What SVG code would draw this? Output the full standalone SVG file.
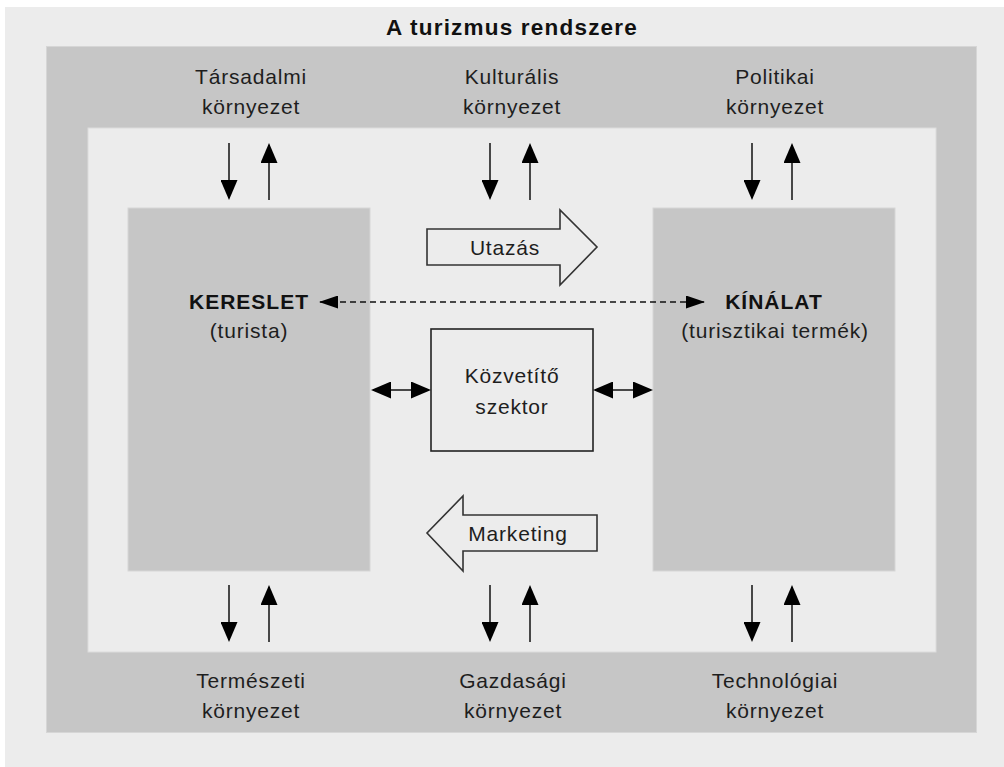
<svg xmlns="http://www.w3.org/2000/svg" width="1004" height="767" viewBox="0 0 1004 767">
  <style>
    .lbl { font-family: "Liberation Sans", Arial, sans-serif; font-size: 21px; letter-spacing: 0.8px; fill: #1e1e1e; text-anchor: middle; }
    .bold { font-family: "Liberation Sans", Arial, sans-serif; font-weight: bold; fill: #111; text-anchor: middle; }
    .arr { stroke: #111; stroke-width: 1.5; fill: none; }
    .dash { stroke: #111; stroke-width: 1.3; fill: none; stroke-dasharray: 6 4; }
    .block { fill: #ececec; stroke: #333; stroke-width: 1.6; }
    .mid { fill: #c6c6c6; stroke: #d6d6d6; stroke-width: 1; }
    .light { fill: #ececec; stroke: #dcdcdc; stroke-width: 1; }
  </style>
  <defs>
    <marker id="ah" markerUnits="userSpaceOnUse" viewBox="0 0 20 17" refX="18" refY="8.5" markerWidth="20" markerHeight="17" orient="auto-start-reverse">
      <path d="M0,0 L20,8.5 L0,17 z" fill="#000"/>
    </marker>
    <marker id="ahs" markerUnits="userSpaceOnUse" viewBox="0 0 19 13" refX="18" refY="6.5" markerWidth="19" markerHeight="13" orient="auto-start-reverse">
      <path d="M0,0 L19,6.5 L0,13 z" fill="#000"/>
    </marker>
  </defs>

  <rect x="0" y="0" width="1004" height="767" fill="#ffffff"/>
  <g id="frame">
    <rect x="5" y="7" width="999" height="760" fill="#ececec"/>
    <rect class="mid" x="46.5" y="46.5" width="930" height="686"/>
    <rect class="light" x="88" y="128" width="848" height="524"/>
  </g>

  <g id="title">
    <text class="bold" x="512" y="35" font-size="22.5" letter-spacing="1.2">A turizmus rendszere</text>
  </g>

  <g id="env-tarsadalmi">
    <text class="lbl" x="251" y="84">Társadalmi</text>
    <text class="lbl" x="251" y="114">környezet</text>
  </g>
  <g id="env-kulturalis">
    <text class="lbl" x="512" y="84">Kulturális</text>
    <text class="lbl" x="512" y="114">környezet</text>
  </g>
  <g id="env-politikai">
    <text class="lbl" x="775" y="84">Politikai</text>
    <text class="lbl" x="775" y="114">környezet</text>
  </g>
  <g id="env-termeszeti">
    <text class="lbl" x="251" y="688">Természeti</text>
    <text class="lbl" x="251" y="718">környezet</text>
  </g>
  <g id="env-gazdasagi">
    <text class="lbl" x="513" y="688">Gazdasági</text>
    <text class="lbl" x="513" y="718">környezet</text>
  </g>
  <g id="env-technologiai">
    <text class="lbl" x="775" y="688">Technológiai</text>
    <text class="lbl" x="775" y="718">környezet</text>
  </g>

  <g id="kereslet">
    <rect class="mid" x="128" y="208" width="242" height="363"/>
    <text class="bold" x="249" y="309" font-size="21" letter-spacing="1">KERESLET</text>
    <text class="lbl" x="249" y="338" letter-spacing="0.6">(turista)</text>
  </g>

  <g id="kinalat">
    <rect class="mid" x="653" y="208" width="242" height="363"/>
    <text class="bold" x="774" y="309" font-size="21" letter-spacing="1">KÍNÁLAT</text>
    <text class="lbl" x="775" y="338" letter-spacing="0.6">(turisztikai termék)</text>
  </g>

  <g id="utazas">
    <polygon class="block" points="427,229 560,229 560,210 597,247 560,285 560,265 427,265"/>
    <text class="lbl" x="505" y="255">Utazás</text>
  </g>

  <g id="marketing">
    <polygon class="block" points="597,515 463,515 463,496 427,533 463,571 463,551 597,551"/>
    <text class="lbl" x="518" y="541">Marketing</text>
  </g>

  <g id="kozvetito">
    <rect x="431" y="329" width="162" height="122" fill="#ececec" stroke="#222" stroke-width="1.6"/>
    <text class="lbl" x="512" y="383">Közvetítő</text>
    <text class="lbl" x="512" y="414">szektor</text>
  </g>

  <g id="connectors">
    <!-- top environment arrows -->
    <line class="arr" x1="229" y1="143" x2="229" y2="198" marker-end="url(#ah)"/>
    <line class="arr" x1="269" y1="200" x2="269" y2="145" marker-end="url(#ah)"/>
    <line class="arr" x1="490" y1="143" x2="490" y2="198" marker-end="url(#ah)"/>
    <line class="arr" x1="530" y1="200" x2="530" y2="145" marker-end="url(#ah)"/>
    <line class="arr" x1="752" y1="143" x2="752" y2="198" marker-end="url(#ah)"/>
    <line class="arr" x1="792" y1="200" x2="792" y2="145" marker-end="url(#ah)"/>
    <!-- bottom environment arrows -->
    <line class="arr" x1="229" y1="585" x2="229" y2="640" marker-end="url(#ah)"/>
    <line class="arr" x1="269" y1="642" x2="269" y2="587" marker-end="url(#ah)"/>
    <line class="arr" x1="490" y1="585" x2="490" y2="640" marker-end="url(#ah)"/>
    <line class="arr" x1="530" y1="642" x2="530" y2="587" marker-end="url(#ah)"/>
    <line class="arr" x1="752" y1="585" x2="752" y2="640" marker-end="url(#ah)"/>
    <line class="arr" x1="792" y1="642" x2="792" y2="587" marker-end="url(#ah)"/>
    <!-- dashed demand-supply link -->
    <line class="dash" x1="320" y1="302" x2="704" y2="302" marker-start="url(#ahs)" marker-end="url(#ahs)"/>
    <!-- intermediary links -->
    <line class="arr" x1="373" y1="390" x2="429" y2="390" marker-start="url(#ah)" marker-end="url(#ah)"/>
    <line class="arr" x1="595" y1="390" x2="651" y2="390" marker-start="url(#ah)" marker-end="url(#ah)"/>
  </g>
</svg>
